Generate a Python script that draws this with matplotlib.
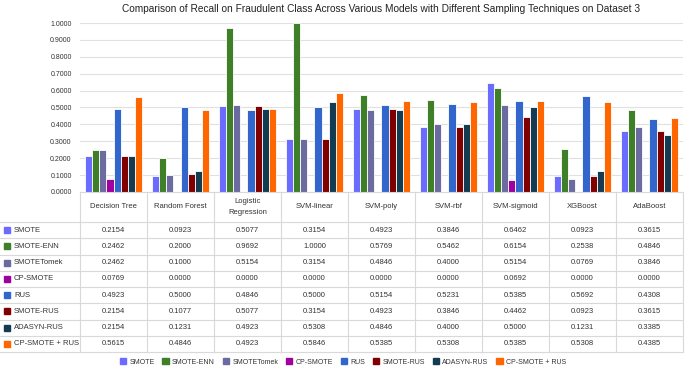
import numpy as np
import matplotlib.pyplot as plt
from matplotlib.patches import Patch

plt.rcParams['font.family'] = ['Liberation Sans', 'DejaVu Sans']

models = ["Decision Tree", "Random Forest", "Logistic\nRegression", "SVM-linear",
          "SVM-poly", "SVM-rbf", "SVM-sigmoid", "XGBoost", "AdaBoost"]
methods = ["SMOTE", "SMOTE-ENN", "SMOTETomek", "CP-SMOTE", "RUS",
           "SMOTE-RUS", "ADASYN-RUS", "CP-SMOTE + RUS"]
colors = ["#6b6bff", "#3f7f27", "#6b6b9f", "#a0009f", "#3366cc",
          "#800000", "#133c53", "#ff6600"]

smote = [0.2154, 0.0923, 0.5077, 0.3154, 0.4923, 0.3846, 0.6462, 0.0923, 0.3615]
smote_enn = [0.2462, 0.2000, 0.9692, 1.0000, 0.5769, 0.5462, 0.6154, 0.2538, 0.4846]
smote_tomek = [0.2462, 0.1000, 0.5154, 0.3154, 0.4846, 0.4000, 0.5154, 0.0769, 0.3846]
cp_smote = [0.0769, 0.0000, 0.0000, 0.0000, 0.0000, 0.0000, 0.0692, 0.0000, 0.0000]
rus = [0.4923, 0.5000, 0.4846, 0.5000, 0.5154, 0.5231, 0.5385, 0.5692, 0.4308]
smote_rus = [0.2154, 0.1077, 0.5077, 0.3154, 0.4923, 0.3846, 0.4462, 0.0923, 0.3615]
adasyn_rus = [0.2154, 0.1231, 0.4923, 0.5308, 0.4846, 0.4000, 0.5000, 0.1231, 0.3385]
cp_smote_rus = [0.5615, 0.4846, 0.4923, 0.5846, 0.5385, 0.5308, 0.5385, 0.5308, 0.4385]

series = [smote, smote_enn, smote_tomek, cp_smote, rus, smote_rus, adasyn_rus, cp_smote_rus]

W, H = 685, 367
fig = plt.figure(figsize=(W / 100, H / 100), dpi=100)

# chart area (pixel layout)
x0, x1 = 80, 683
y_zero, y_one = 192, 23
ax = fig.add_axes([x0 / W, 1 - y_zero / H, (x1 - x0) / W, (y_zero - y_one) / H])

n = len(methods)
group = 0.84
bw = group / n
xs = np.arange(len(models))
for i, (vals, c, name) in enumerate(zip(series, colors, methods)):
    ax.bar(xs - group / 2 + bw * (i + 0.5), vals, bw, color=c, edgecolor="white",
           linewidth=0.6, label=name, clip_on=False, zorder=3)

ax.set_xlim(-0.5, len(models) - 0.5)
ax.set_ylim(0, 1)
ax.set_yticks(np.arange(0, 1.01, 0.1))
ax.set_yticklabels([f"{v:.4f}" for v in np.arange(0, 1.01, 0.1)], fontsize=5, color="#333333")
ax.set_xticks([])
ax.tick_params(axis="y", length=0, pad=6)
ax.grid(axis="y", color="#e0e0e0", linewidth=0.8, zorder=0)
for s in ax.spines.values():
    s.set_visible(False)

fig.text((x0 + x1) / 2 / W, 1 - 8.5 / H,
         "Comparison of Recall on Fraudulent Class Across Various Models with Different Sampling Techniques on Dataset 3",
         ha="center", va="center", fontsize=7.3, color="#222222")

# data table below the chart
tax = fig.add_axes([0, 0, 1, 1])
tax.set_xlim(0, W)
tax.set_ylim(H, 0)
tax.axis("off")

line_c = "#d9d9d9"
head_bot = 222
row_h = 16.25
tab_bot = head_bot + row_h * n
col_w = (x1 - x0) / len(models)

tax.plot([x0, x1], [y_zero, y_zero], color=line_c, lw=0.8)
for j in range(len(models) + 1):
    xx = x0 + j * col_w
    tax.plot([xx, xx], [y_zero, tab_bot], color=line_c, lw=0.8)
for r in range(n + 1):
    yy = head_bot + r * row_h
    tax.plot([0, x1], [yy, yy], color=line_c, lw=0.8)

for j, m in enumerate(models):
    tax.text(x0 + (j + 0.5) * col_w, (y_zero + head_bot) / 2, m, ha="center", va="center",
             fontsize=5.5, color="#333333", linespacing=1.9)

for i, (vals, c, name) in enumerate(zip(series, colors, methods)):
    yc = head_bot + (i + 0.5) * row_h
    tax.add_patch(plt.Rectangle((4.5, yc - 3), 6, 6, color=c))
    tax.text(14, yc, name, ha="left", va="center", fontsize=5.5, color="#333333")
    for j, v in enumerate(vals):
        tax.text(x0 + (j + 0.5) * col_w, yc, f"{v:.4f}", ha="center", va="center",
                 fontsize=5.5, color="#333333")

handles = [Patch(color=c, label=m) for c, m in zip(colors, methods)]
fig.legend(handles=handles, loc="center", bbox_to_anchor=(343 / W, 1 - 362 / H),
           ncol=n, frameon=False, fontsize=5, handlelength=0.9, handleheight=0.9,
           handletextpad=0.5, columnspacing=1.1, labelcolor="#333333")

fig.savefig("out.png", dpi=100)
